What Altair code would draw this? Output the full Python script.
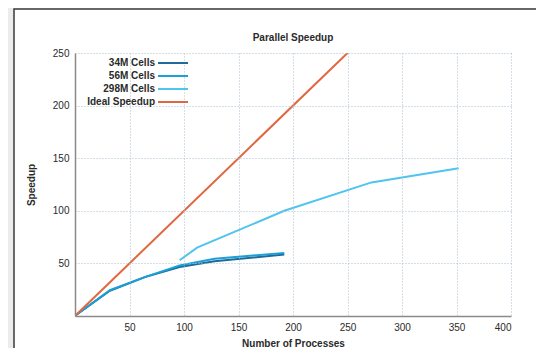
import altair as alt
import pandas as pd

series_names = ["34M Cells", "56M Cells", "298M Cells", "Ideal Speedup"]
series_colors = ["#1f6a96", "#1a9fd9", "#4fc4ee", "#e0673f"]

procs_34m = [1, 32, 64, 96, 128, 192]
speed_34m = [1, 24, 37, 46.5, 52, 58.5]
procs_56m = [1, 32, 64, 96, 128, 192]
speed_56m = [1, 24.5, 37, 48, 54.5, 60]
procs_298m = [96, 112, 192, 272, 352]
speed_298m = [53, 65, 100, 127, 140.5]
procs_ideal = [0, 250]
speed_ideal = [0, 250]

x_ticks = [50, 100, 150, 200, 250, 300, 350, 400]
y_ticks = [50, 100, 150, 200, 250]

rows = []
for name, xs, ys in [
    ("34M Cells", procs_34m, speed_34m),
    ("56M Cells", procs_56m, speed_56m),
    ("298M Cells", procs_298m, speed_298m),
    ("Ideal Speedup", procs_ideal, speed_ideal),
]:
    for i, (a, b) in enumerate(zip(xs, ys)):
        rows.append({"series": name, "procs": a, "speedup": b, "order": i})
df = pd.DataFrame(rows)

font = "Liberation Sans"

frame = alt.Chart(pd.DataFrame({"k": [0]})).mark_rect(
    fill="white", stroke="#3a3a3a", strokeWidth=1.5
).encode(x=alt.value(-61), x2=alt.value(467), y=alt.value(-44), y2=alt.value(330))

lines = alt.Chart(df).mark_line(clip=True).encode(
    x=alt.X("procs:Q", scale=alt.Scale(domain=[0, 400], nice=False),
            axis=alt.Axis(values=x_ticks, title="Number of Processes", grid=True, zindex=1)),
    y=alt.Y("speedup:Q", scale=alt.Scale(domain=[0, 250], nice=False),
            axis=alt.Axis(values=y_ticks, title="Speedup", grid=True, zindex=1)),
    color=alt.Color("series:N",
                    scale=alt.Scale(domain=series_names, range=series_colors),
                    legend=alt.Legend(title=None, orient="none", legendX=92, legendY=4,
                                      symbolType="M-3,0H3", symbolSize=100,
                                      symbolStrokeWidth=2.5, labelAlign="right",
                                      labelOffset={"expr": "-24"}, rowPadding=2,
                                      labelFont=font, labelFontSize=10,
                                      labelFontWeight="bold", labelColor="#2a2a2a",
                                      zindex=2)),
    strokeWidth=alt.StrokeWidth("series:N",
                                scale=alt.Scale(domain=series_names, range=[2, 2, 1.6, 2.6]),
                                legend=None),
    order="order:Q",
)

chart = alt.layer(frame, lines).properties(
    width=436, height=263,
    title=alt.Title("Parallel Speedup", font=font, fontSize=10, fontWeight="bold",
                    color="#2a2a2a", offset=0, dy=35, zindex=2),
    autosize=alt.AutoSizeParams(type="none"),
    padding={"left": 67, "top": 45, "right": 25, "bottom": 32},
    background="#ececec",
).configure_view(stroke=None).configure_axis(
    labelFont=font, labelFontSize=10, labelColor="#2a2a2a",
    titleFont=font, titleFontSize=10, titleFontWeight="bold", titleColor="#2a2a2a",
    domainColor="#8a8a8a", domainWidth=1.5, ticks=False, labelPadding=6,
    gridColor="#a9bfcf", gridDash=[1, 2], gridWidth=1,
).configure_axisY(titlePadding=16).configure_axisX(titlePadding=6)

chart.save("out.html", embed_options={"renderer": "svg", "actions": False})
